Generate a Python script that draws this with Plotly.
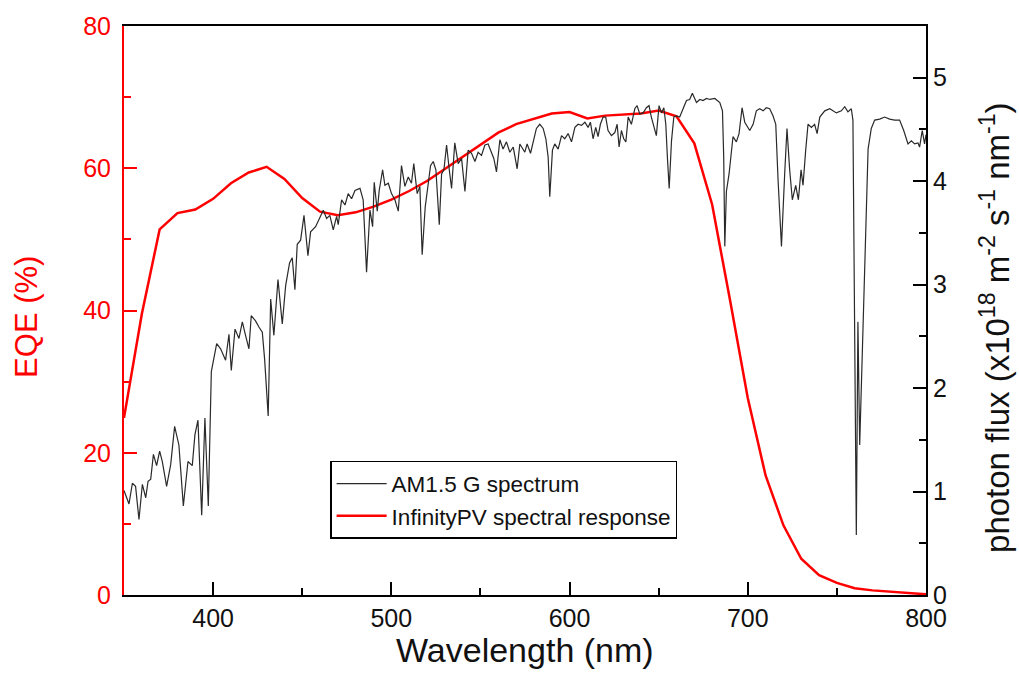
import plotly.graph_objects as go

# InfinityPV spectral response (EQE, %)
eqe_wl = [350, 360, 370, 380, 390, 400, 410, 420, 430, 440, 450, 460, 470, 480, 490,
          500, 510, 520, 530, 540, 550, 560, 570, 580, 590, 600, 610, 620, 630, 640,
          650, 660, 670, 680, 690, 700, 710, 720, 730, 740, 750, 760, 770, 780, 790, 800]
eqe_val = [24.9, 39.5, 51.4, 53.7, 54.2, 55.7, 57.9, 59.4, 60.2, 58.5, 55.8, 53.9, 53.4, 53.8, 54.6,
           55.6, 56.8, 58.2, 59.9, 61.6, 63.4, 65.0, 66.2, 67.0, 67.7, 67.9, 67.0, 67.4, 67.5, 67.7,
           68.1, 67.3, 63.5, 54.9, 41.5, 27.7, 16.8, 9.8, 5.1, 2.8, 1.7, 0.95, 0.65, 0.45, 0.3, 0.1]

# AM1.5 G photon flux (x1e18 m^-2 s^-1 nm^-1)
am_wl = [350.0, 352.8, 354.7, 356.5, 358.4, 360.3, 362.2, 363.5, 365.0, 366.5, 368.3, 370.0,
         371.5, 373.9, 376.2, 378.4, 380.8, 383.3, 385.9, 388.3, 389.8, 391.5, 393.6, 395.4,
         397.3, 399.0, 402.0, 404.2, 407.0, 408.9, 410.2, 412.3, 414.5, 416.4, 418.2, 420.1,
         421.4, 423.8, 425.7, 427.6, 428.9, 430.9, 432.3, 434.1, 436.4, 438.8, 440.7, 442.9,
         444.4, 445.9, 447.2, 449.1, 451.0, 453.2, 454.7, 457.5, 459.4, 461.8, 463.7, 465.5,
         467.4, 469.3, 470.2, 472.1, 474.0, 475.8, 477.7, 479.6, 482.4, 484.2, 486.1, 488.0,
         489.5, 490.4, 492.1, 493.2, 495.1, 496.4, 498.3, 500.1, 502.0, 503.9, 505.7, 507.6,
         509.5, 511.3, 512.6, 514.5, 516.0, 517.3, 519.0, 520.7, 522.0, 523.5, 525.0, 526.9,
         528.2, 529.5, 531.0, 532.5, 533.8, 535.6, 537.5, 539.4, 541.3, 543.1, 545.0, 546.9,
         548.7, 550.6, 552.5, 554.3, 556.2, 557.5, 559.0, 560.9, 562.7, 564.6, 566.5, 568.4,
         570.6, 572.1, 574.9, 576.2, 578.1, 579.6, 581.4, 583.3, 585.2, 586.7, 588.0, 588.9,
         590.4, 591.7, 593.6, 595.5, 597.3, 599.2, 601.1, 603.0, 604.8, 606.7, 608.6, 610.4,
         611.7, 613.2, 614.7, 616.0, 617.3, 618.8, 620.3, 621.6, 623.5, 625.4, 626.7, 627.8,
         629.1, 630.4, 631.6, 632.9, 634.7, 636.6, 637.9, 639.4, 641.3, 643.1, 644.6, 645.9,
         647.3, 648.7, 650.2, 651.6, 652.9, 654.0, 654.9, 655.9, 657.2, 658.5, 660.0, 661.8,
         663.7, 665.6, 667.4, 668.9, 671.2, 673.1, 674.9, 676.8, 678.7, 681.5, 684.3, 685.8,
         686.5, 687.1, 688.0, 689.5, 691.7, 693.6, 695.1, 696.8, 698.3, 701.1, 703.0, 704.8,
         706.7, 708.6, 710.4, 712.3, 714.2, 715.7, 717.0, 718.9, 720.7, 722.0, 723.5, 725.0,
         726.9, 728.4, 729.9, 731.0, 732.5, 733.8, 735.7, 737.5, 738.9, 740.4, 743.2, 746.0,
         749.7, 752.5, 754.4, 756.2, 758.1, 759.0, 760.9, 761.8, 762.8, 767.5, 769.3, 771.2,
         774.0, 776.8, 779.6, 782.4, 785.2, 787.5, 789.9, 791.8, 793.6, 795.5, 796.4, 797.9,
         799.2, 800.0]
am_flux = [1.01, 0.88, 1.08, 1.05, 0.73, 1.07, 0.94, 1.10, 1.12, 1.36, 1.25, 1.39,
           1.29, 1.05, 1.26, 1.63, 1.45, 0.86, 1.29, 1.25, 1.55, 1.69, 0.77, 1.71,
           0.86, 2.16, 2.43, 2.38, 2.27, 2.52, 2.17, 2.57, 2.48, 2.64, 2.51, 2.38,
           2.70, 2.65, 2.59, 2.54, 2.28, 1.73, 2.86, 2.51, 3.05, 2.62, 2.99, 3.21,
           3.26, 2.95, 3.39, 3.43, 3.67, 3.28, 3.51, 3.56, 3.63, 3.72, 3.64, 3.67,
           3.53, 3.66, 3.58, 3.82, 3.77, 3.88, 3.83, 3.91, 3.93, 3.82, 3.12, 3.72,
           3.56, 3.99, 3.71, 3.91, 4.11, 3.96, 3.98, 3.88, 3.82, 3.71, 4.15, 3.95,
           4.04, 3.98, 4.17, 3.88, 3.95, 3.29, 3.75, 3.96, 4.15, 4.19, 4.11, 3.58,
           4.07, 4.11, 4.35, 4.11, 3.93, 4.37, 4.17, 4.22, 3.90, 4.30, 4.27, 4.19,
           4.28, 4.25, 4.35, 4.36, 4.28, 4.22, 4.09, 4.40, 4.31, 4.38, 4.28, 4.33,
           4.12, 4.36, 4.28, 4.36, 4.27, 4.39, 4.51, 4.55, 4.51, 4.41, 4.23, 3.85,
           4.30, 4.36, 4.31, 4.44, 4.41, 4.46, 4.38, 4.52, 4.55, 4.54, 4.57, 4.52,
           4.57, 4.41, 4.52, 4.43, 4.55, 4.62, 4.62, 4.49, 4.44, 4.47, 4.55, 4.33,
           4.49, 4.41, 4.38, 4.62, 4.55, 4.70, 4.73, 4.65, 4.66, 4.71, 4.73, 4.62,
           4.52, 4.44, 4.73, 4.66, 4.71, 4.55, 4.23, 3.93, 4.39, 4.62, 4.63, 4.62,
           4.70, 4.78, 4.79, 4.85, 4.76, 4.79, 4.78, 4.80, 4.79, 4.80, 4.76, 4.68,
           4.23, 3.37, 3.90, 4.07, 4.43, 4.38, 4.46, 4.71, 4.57, 4.49, 4.55, 4.68,
           4.70, 4.68, 4.71, 4.70, 4.63, 4.55, 4.01, 3.37, 4.07, 4.51, 4.11, 3.82,
           3.96, 3.82, 4.11, 3.96, 4.30, 4.55, 4.52, 4.55, 4.46, 4.62, 4.68, 4.70,
           4.66, 4.68, 4.72, 4.67, 4.70, 4.59, 0.58, 2.64, 1.45, 4.31, 4.51, 4.59,
           4.60, 4.62, 4.60, 4.59, 4.59, 4.49, 4.36, 4.39, 4.36, 4.37, 4.33, 4.49,
           4.36, 4.45]

x_title = "Wavelength (nm)"
y_title = "EQE (%)"
y2_title = "photon flux (x10<sup>18</sup> m<sup>-2</sup> s<sup>-1</sup> nm<sup>-1</sup>)"

FONT = "Liberation Sans, Arial, sans-serif"
RED = "#ff0000"
DARK = "#111111"

fig = go.Figure()
fig.add_trace(go.Scatter(x=am_wl, y=am_flux, mode="lines", name="AM1.5 G spectrum",
                         line=dict(color="#2a2a2a", width=1.2), yaxis="y2"))
fig.add_trace(go.Scatter(x=eqe_wl, y=eqe_val, mode="lines", name="InfinityPV spectral response",
                         line=dict(color=RED, width=2.5), yaxis="y"))

fig.update_layout(
    width=1019, height=691, autosize=False,
    margin=dict(l=124, r=93, t=22, b=96),
    paper_bgcolor="white", plot_bgcolor="white",
    font=dict(family=FONT, color="black"),
    xaxis=dict(range=[350, 800], dtick=100, tick0=0, ticks="inside", ticklen=13, tickwidth=2,
               tickcolor="black", linecolor="black", linewidth=2, mirror=True,
               showgrid=False, zeroline=False,
               tickfont=dict(size=25, color=DARK),
               minor=dict(ticks="inside", ticklen=7, tickwidth=2, tickcolor="black", dtick=50,
                          tick0=0, showgrid=False)),
    yaxis=dict(range=[0, 80], dtick=20, ticks="inside", ticklen=13, tickwidth=2,
               tickcolor=RED, linecolor=RED, linewidth=2, showgrid=False, zeroline=False,
               tickfont=dict(size=25, color=RED), ticklabelstandoff=6,
               minor=dict(ticks="inside", ticklen=7, tickwidth=2, tickcolor=RED, dtick=10,
                          showgrid=False)),
    yaxis2=dict(range=[0, 5.5], dtick=1, overlaying="y", side="right", ticks="inside",
                ticklen=13, tickwidth=2, tickcolor="black", linecolor="black", linewidth=2,
                showgrid=False, zeroline=False, tickfont=dict(size=25, color=DARK),
                minor=dict(ticks="inside", ticklen=7, tickwidth=2, tickcolor="black", dtick=0.5,
                           showgrid=False)),
    legend=dict(x=0.257, y=0.2356, xanchor="left", yanchor="top", bgcolor="white",
                bordercolor="black", borderwidth=1.5, font=dict(size=22.5, color=DARK),
                tracegroupgap=0, itemwidth=50),
    showlegend=True,
    annotations=[
        dict(text=x_title, xref="paper", yref="paper", x=0.5, y=-0.096,
             xanchor="center", yanchor="middle", showarrow=False,
             font=dict(size=34, color=DARK)),
        dict(text=y_title, xref="paper", yref="paper", x=-0.121, y=0.4887, textangle=-90,
             xanchor="center", yanchor="middle", showarrow=False,
             font=dict(size=31, color=RED)),
        dict(text=y2_title, xref="paper", yref="paper", x=1.086, y=0.471, textangle=-90,
             xanchor="center", yanchor="middle", showarrow=False,
             font=dict(size=33, color=DARK)),
    ],
)

fig.write_html("out.html")
